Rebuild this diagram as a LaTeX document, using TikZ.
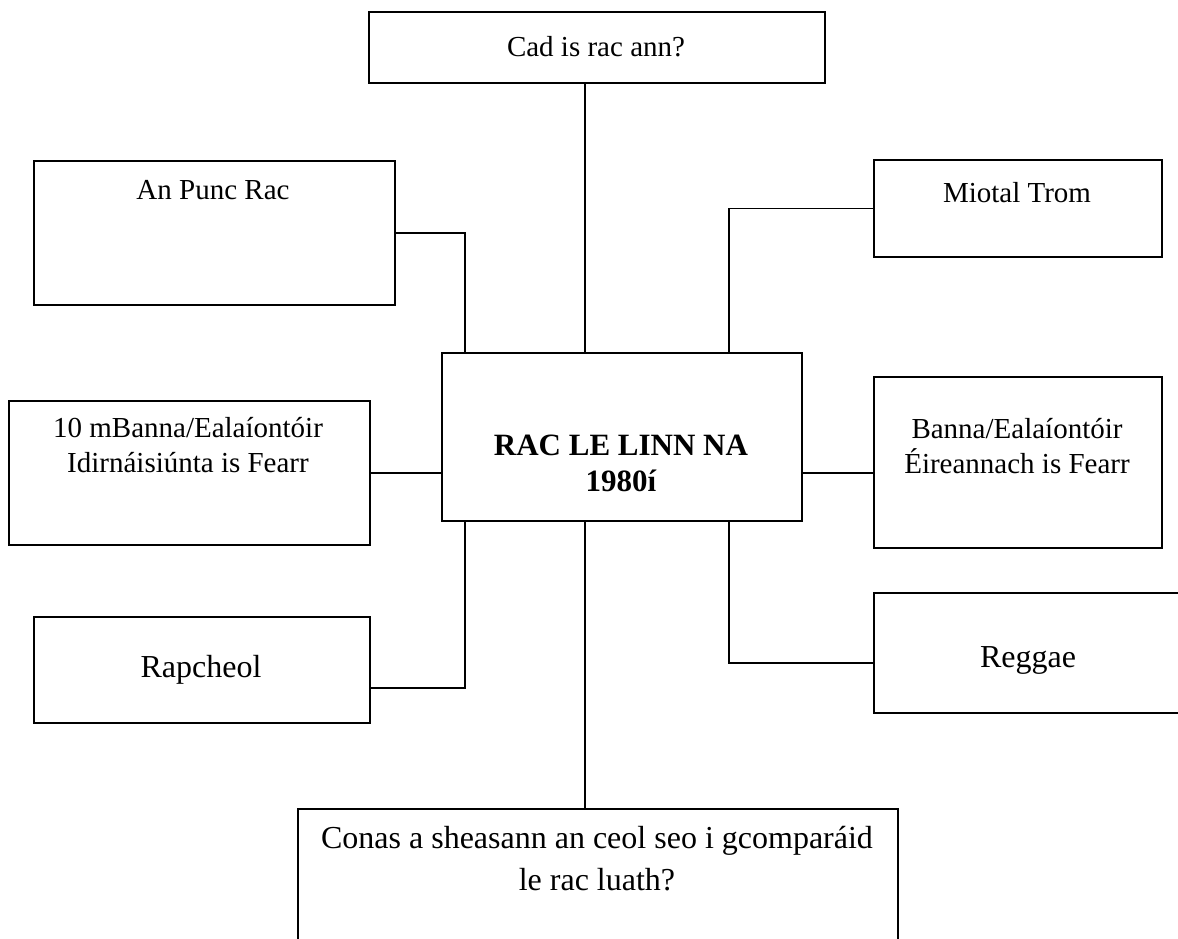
\documentclass[tikz,border=0pt]{standalone}
\usepackage{fontspec}
\setmainfont{Liberation Serif}
\usetikzlibrary{calc}
\begin{document}
\begin{tikzpicture}[x=1pt,y=-1pt,
  box/.style={draw, line width=1.6pt, rectangle, inner sep=0pt, anchor=north west},
  txt/.style={font=\fontsize{29}{35}\selectfont, align=center, inner sep=0pt},
  bigtxt/.style={font=\fontsize{32}{42}\selectfont, align=center, inner sep=0pt},
  conn/.style={line width=1.6pt}]
\path[use as bounding box, clip] (0,0) rectangle (1178,939);
% boxes
\node[box, minimum width=456pt, minimum height=71pt] (top) at (368,11) {};
\node[box, minimum width=361pt, minimum height=144pt] (punc) at (33,160) {};
\node[box, minimum width=288pt, minimum height=97pt] (miot) at (873,159) {};
\node[box, minimum width=360pt, minimum height=168pt] (ctr) at (441,352) {};
\node[box, minimum width=361pt, minimum height=144pt] (mban) at (8,400) {};
\node[box, minimum width=288pt, minimum height=171pt] (eire) at (873,376) {};
\node[box, minimum width=336pt, minimum height=106pt] (rap) at (33,616) {};
\node[box, minimum width=340pt, minimum height=120pt] (reg) at (873,592) {};
\node[box, minimum width=600pt, minimum height=160pt] (conas) at (297,808) {};
% texts
\node[txt] (ttop) at (596,47) {Cad is rac ann?};
\node[txt] (tpunc) at (213,190) {An Punc Rac};
\node[txt] (tmiot) at (1017,193) {Miotal Trom};
\node[txt, font=\fontsize{31}{36}\selectfont\bfseries] (tctr) at (621,463) {RAC LE LINN NA\\1980í};
\node[txt] (tmban) at (188,445) {10 mBanna/Ealaíontóir\\Idirnáisiúnta is Fearr};
\node[txt] (teire) at (1017,446) {Banna/Ealaíontóir\\Éireannach is Fearr};
\node[bigtxt] (trap) at (201,670) {Rapcheol};
\node[bigtxt] (treg) at (1028,660) {Reggae};
\node[bigtxt] (tconas) at (597,859) {Conas a sheasann an ceol seo i gcomparáid\\le rac luath?};
% connector points
\coordinate (cTL) at ($(ctr.north west)+(24,0)$);
\coordinate (cTR) at ($(ctr.north west)+(288,0)$);
\coordinate (cBL) at ($(ctr.south west)+(24,0)$);
\coordinate (cBR) at ($(ctr.south west)+(288,0)$);
\coordinate (cT) at ($(ctr.north west)+(144,0)$);
\coordinate (cB) at ($(ctr.south west)+(144,0)$);
\coordinate (rapP) at ($(rap.north east)+(0,72)$);
\coordinate (regP) at ($(reg.north west)+(0,71)$);
% connectors
\draw[conn] (cT) -- (cT |- top.south);
\draw[conn] (punc.east) -| (cTL);
\draw[conn] (cTR) |- (miot.west);
\draw[conn] (mban.east) -- (mban.east -| ctr.west);
\draw[conn] (mban.east -| ctr.east) -- (mban.east -| eire.west);
\draw[conn] (cBL) |- (rapP);
\draw[conn] (cBR) |- (regP);
\draw[conn] (cB) -- (cB |- conas.north);
\end{tikzpicture}
\end{document}
